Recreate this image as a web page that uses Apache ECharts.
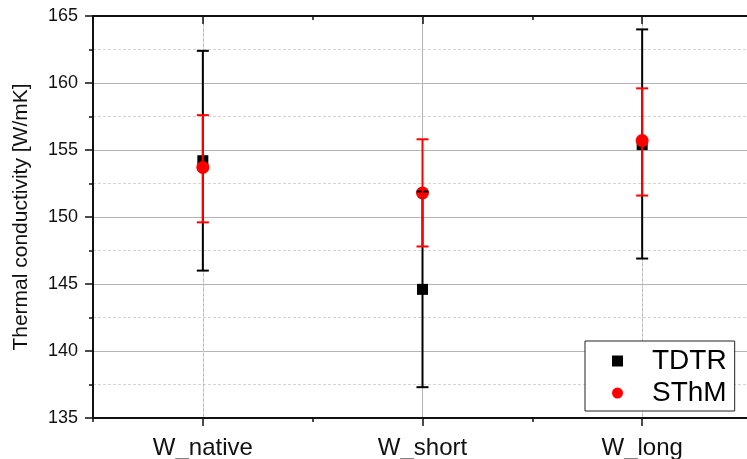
<!DOCTYPE html>
<html>
<head>
<meta charset="utf-8">
<script src="https://cdn.jsdelivr.net/npm/echarts@6.0.0/dist/echarts.min.js"></script>
<style>
  html, body { margin: 0; padding: 0; background: #fff; }
  #chart { width: 747px; height: 459px; }
</style>
</head>
<body>
<div id="chart"></div>
<script>
// data
const categories = ['W_native', 'W_short', 'W_long'];
const tdtrMean = [154.2, 144.6, 155.4];
const tdtrLow = [146.0, 137.3, 146.9];
const tdtrHigh = [162.4, 151.9, 164.0];
const sthmMean = [153.7, 151.8, 155.7];
const sthmLow = [149.6, 147.8, 151.6];
const sthmHigh = [157.6, 155.8, 159.6];
const yTicks = [135, 140, 145, 150, 155, 160, 165];

var chart = echarts.init(document.getElementById('chart'));
const font = 'Arial, "Liberation Sans", sans-serif';
const clear = 'rgba(0,0,0,0)';

function errorBars(color, low, high) {
  return {
    type: 'custom',
    xAxisIndex: 0,
    yAxisIndex: 0,
    z: 5,
    silent: true,
    encode: { x: 0, y: [1, 2] },
    data: categories.map((c, i) => [i + 1, low[i], high[i]]),
    renderItem: function (params, api) {
      const x = api.value(0);
      const lo = api.coord([x, api.value(1)]);
      const hi = api.coord([x, api.value(2)]);
      const hw = 6;
      const st = { stroke: color, lineWidth: 2 };
      return {
        type: 'group',
        children: [
          { type: 'line', shape: { x1: lo[0], y1: lo[1], x2: hi[0], y2: hi[1] }, style: st },
          { type: 'line', shape: { x1: lo[0] - hw, y1: lo[1], x2: lo[0] + hw, y2: lo[1] }, style: st },
          { type: 'line', shape: { x1: hi[0] - hw, y1: hi[1], x2: hi[0] + hw, y2: hi[1] }, style: st }
        ]
      };
    }
  };
}

const xBase = { type: 'value', min: 0.5, max: 3.5, interval: 0.5, gridIndex: 0 };

var option = {
  backgroundColor: '#fff',
  animation: false,
  grid: { left: 93, right: -5, top: 16, bottom: 41, outerBoundsMode: 'none', containLabel: false },
  legend: {
    orient: 'vertical',
    left: 585,
    top: 341,
    padding: [6, 8, 4, 27],
    itemGap: 4,
    itemWidth: 11,
    itemHeight: 11,
    backgroundColor: '#fff',
    borderColor: '#222',
    borderWidth: 1,
    textStyle: { fontFamily: font, fontSize: 28, color: '#000', padding: [0, 0, 0, 24] },
    data: [
      { name: 'TDTR', icon: 'rect' },
      { name: 'SThM', icon: 'circle' }
    ]
  },
  xAxis: [
    Object.assign({}, xBase, {
      position: 'bottom',
      axisLine: { lineStyle: { color: '#111', width: 2 } },
      axisTick: { length: 4, lineStyle: { color: '#111', width: 1.5 } },
      axisLabel: {
        margin: 18,
        fontFamily: font,
        fontSize: 24,
        color: '#111',
        formatter: function (v) {
          return Number.isInteger(v) ? categories[v - 1] : '';
        }
      },
      splitLine: { show: true, lineStyle: { color: [clear, '#b4b4b4'], width: 1 } }
    }),
    Object.assign({}, xBase, {
      position: 'bottom',
      axisLine: { show: false },
      axisTick: { show: true, customValues: [1, 2, 3], length: 8, lineStyle: { color: '#111', width: 1.5 } },
      axisLabel: { show: false },
      splitLine: { show: true, lineStyle: { color: ['#d4d4d4', clear], type: [3, 2], width: 1 } }
    }),
    Object.assign({}, xBase, {
      position: 'top',
      axisLine: { lineStyle: { color: '#111', width: 2 } },
      axisTick: { inside: true, length: 4, lineStyle: { color: '#111', width: 1.5 } },
      axisLabel: { show: false },
      splitLine: { show: false }
    }),
    Object.assign({}, xBase, {
      position: 'top',
      axisLine: { show: false },
      axisTick: { inside: true, customValues: [1, 2, 3], length: 8, lineStyle: { color: '#111', width: 1.5 } },
      axisLabel: { show: false },
      splitLine: { show: false }
    })
  ],
  yAxis: {
    type: 'value',
    min: yTicks[0],
    max: yTicks[yTicks.length - 1],
    interval: 5,
    name: 'Thermal conductivity [W/mK]',
    nameLocation: 'middle',
    nameGap: 61,
    nameTextStyle: { fontFamily: font, fontSize: 21, color: '#111' },
    axisLine: { show: true, lineStyle: { color: '#111', width: 2 } },
    axisTick: { length: 8, lineStyle: { color: '#111', width: 1.5 } },
    minorTick: { show: true, splitNumber: 2, length: 4, lineStyle: { color: '#111', width: 1.5 } },
    axisLabel: { margin: 15, fontFamily: font, fontSize: 18, color: '#111' },
    splitLine: { show: true, lineStyle: { color: '#b4b4b4', width: 1 } },
    minorSplitLine: { show: true, lineStyle: { color: '#d4d4d4', type: [3, 2], width: 1 } }
  },
  series: [
    {
      name: 'TDTR',
      type: 'scatter',
      symbol: 'rect',
      symbolSize: 11,
      z: 3,
      itemStyle: { color: '#000', opacity: 1 },
      data: categories.map((c, i) => [i + 1, tdtrMean[i]])
    },
    {
      name: 'SThM',
      type: 'scatter',
      symbol: 'circle',
      symbolSize: 13,
      z: 4,
      itemStyle: { color: '#ff0000', opacity: 1 },
      data: categories.map((c, i) => [i + 1, sthmMean[i]])
    },
    errorBars('#000', tdtrLow, tdtrHigh),
    Object.assign(errorBars('#ff0000', sthmLow, sthmHigh), { z: 6 })
  ]
};

option && chart.setOption(option);
</script>
</body>
</html>
